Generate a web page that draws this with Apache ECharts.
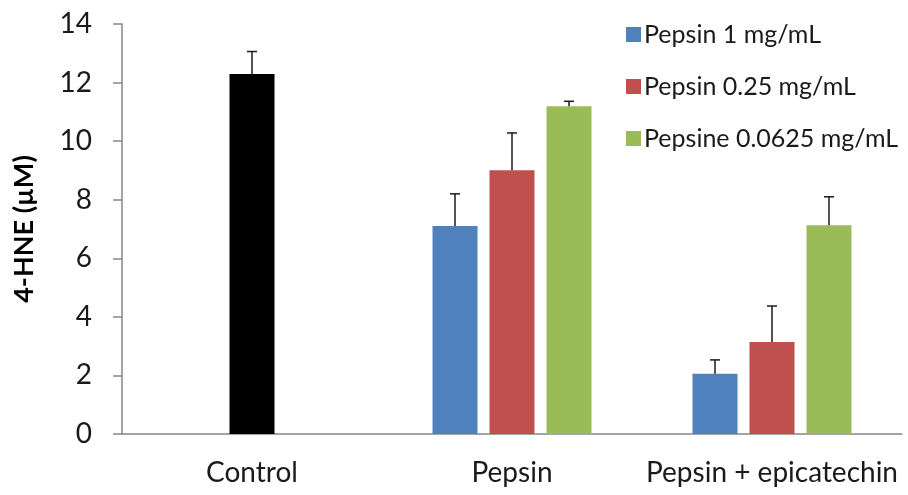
<!DOCTYPE html>
<html>
<head>
<meta charset="utf-8">
<script src="https://cdn.jsdelivr.net/npm/echarts@6/dist/echarts.min.js"></script>
<style>html,body{margin:0;padding:0;background:#fff;}#c{width:908px;height:495px;}</style>
</head>
<body>
<div id="c"></div>
<script>
const categories = ['Control', 'Pepsin', 'Pepsin + epicatechin'];
const seriesNames = ['Pepsin 1 mg/mL', 'Pepsin 0.25 mg/mL', 'Pepsine 0.0625 mg/mL'];
const controlValue = 12.29;
const controlErr = 0.77;
const pepsin1 = [null, 7.10, 2.06];
const pepsin1Err = [null, 1.10, 0.47];
const pepsin025 = [null, 9.01, 3.14];
const pepsin025Err = [null, 1.27, 1.23];
const pepsin00625 = [null, 11.19, 7.13];
const pepsin00625Err = [null, 0.17, 0.97];
const yTicks = [0, 2, 4, 6, 8, 10, 12, 14];

const colors = ['#4F81BD', '#C0504D', '#9BBB59'];
const controlColor = '#000000';
const BAR_W = 45, BAR_GAP = 12;
const FONT = 'Lato';

const values = [pepsin1, pepsin025, pepsin00625];
const errs = [pepsin1Err, pepsin025Err, pepsin00625Err];

const barSeries = values.map((arr, si) => ({
  name: seriesNames[si],
  type: 'bar',
  barWidth: BAR_W,
  barGap: (BAR_GAP / BAR_W * 100) + '%',
  itemStyle: { color: colors[si] },
  data: arr.map((v, ci) => {
    if (ci === 0 && si === 1) return { value: controlValue, itemStyle: { color: controlColor } };
    return v === null ? '-' : v;
  })
}));

const errData = [];
errData.push([0, 1, controlValue, controlErr]);
values.forEach((arr, si) => arr.forEach((v, ci) => {
  if (v !== null) errData.push([ci, si, v, errs[si][ci]]);
}));

const errSeries = {
  type: 'custom',
  silent: true,
  z: 5,
  data: errData,
  encode: { x: 0, y: 2 },
  renderItem: function (params, api) {
    const ci = api.value(0), si = api.value(1), v = api.value(2), e = api.value(3);
    const base = api.coord([ci, v]);
    const top = api.coord([ci, v + e]);
    const x = base[0] + (si - 1) * (BAR_W + BAR_GAP);
    const cap = 5;
    const style = { stroke: '#1a1a1a', lineWidth: 1.5 };
    return {
      type: 'group',
      children: [
        { type: 'line', shape: { x1: x, y1: base[1], x2: x, y2: top[1] }, style: style },
        { type: 'line', shape: { x1: x - cap, y1: top[1], x2: x + cap, y2: top[1] }, style: style }
      ]
    };
  }
};

const chart = echarts.init(document.getElementById('c'), null, { renderer: 'canvas' });
chart.setOption({
  animation: false,
  backgroundColor: '#ffffff',
  grid: { left: 122, right: 6, top: 24, bottom: 61 },
  legend: {
    orient: 'vertical',
    left: 621,
    top: 17,
    itemWidth: 15,
    itemHeight: 15,
    itemGap: 27,
    icon: 'rect',
    data: seriesNames,
    textStyle: { fontFamily: FONT, fontSize: 25, color: '#1a1a1a', padding: [0, 0, 0, -2] }
  },
  xAxis: {
    type: 'category',
    data: categories,
    axisLine: { lineStyle: { color: '#868686', width: 1.5 } },
    axisTick: { show: false },
    axisLabel: { fontFamily: FONT, fontSize: 28, color: '#1a1a1a', margin: 25, interval: 0 }
  },
  yAxis: {
    type: 'value',
    min: 0,
    max: 14,
    interval: 2,
    name: '4-HNE (µM)',
    nameLocation: 'middle',
    nameGap: 84,
    nameRotate: 90,
    nameTextStyle: { fontFamily: FONT, fontSize: 27, fontWeight: 'bold', color: '#000' },
    axisLine: { show: true, lineStyle: { color: '#868686', width: 1.5 } },
    axisTick: { show: true, inside: false, length: 9, lineStyle: { color: '#868686', width: 1.5 } },
    splitLine: { show: false },
    axisLabel: {
      fontFamily: FONT, fontSize: 28, color: '#1a1a1a', margin: 30,
      formatter: v => (yTicks.indexOf(v) >= 0 ? String(v) : '')
    }
  },
  series: barSeries.concat([errSeries])
});
</script>
</body>
</html>
